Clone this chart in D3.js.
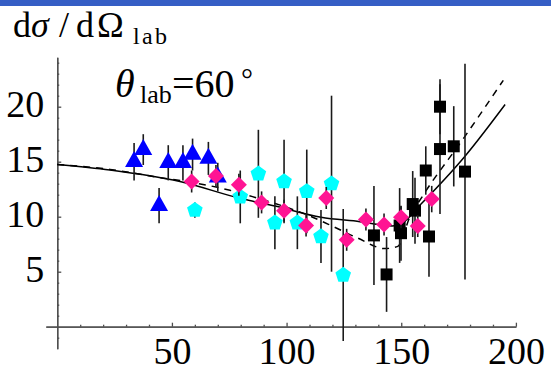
<!DOCTYPE html>
<html>
<head>
<meta charset="utf-8">
<script src="https://cdn.jsdelivr.net/npm/d3@7"></script>
<style>
    body { margin: 0; background: #fff; }
</style>
</head>
<body>
<div id="chart"></div>
<script>
// data
const blueX = [33.5, 37.5, 44.4, 48.4, 54.8, 59.0, 65.9, 70.0];
const blueY = [15.0, 16.1, 11.0, 14.9, 14.9, 15.65, 15.3, 13.6];
const blueErr = [1.7, 1.4, 1.6, 1.6, 1.6, 1.45, 1.5, 1.3];

const cyanX = [60.0, 79.8, 87.7, 94.9, 98.9, 104.7, 108.8, 115.0, 119.6, 124.7];
const cyanY = [10.6, 11.8, 13.9, 9.45, 13.2, 9.45, 12.3, 8.2, 13.0, 4.7];
const cyanErr = [0.7, 2.4, 4.0, 2.4, 3.8, 2.4, 3.8, 2.4, 8.0, 6.0];

const pinkX = [58.6, 69.2, 79.2, 89.1, 98.9, 108.5, 117.3, 126.2, 134.6, 142.5, 149.9, 157.2, 163.3];
const pinkY = [13.2, 13.7, 12.9, 11.3, 10.55, 9.2, 11.7, 7.9, 9.75, 9.3, 9.95, 9.15, 11.6];
const pinkErr = [1.0, 1.0, 1.0, 1.0, 1.0, 1.0, 1.0, 1.0, 1.0, 1.0, 1.0, 1.0, 1.2];

const blackX = [138.1, 143.6, 149.3, 149.9, 155.0, 156.0, 160.7, 162.1, 166.9, 166.9, 172.9, 177.8];
const blackY = [8.3, 4.75, 9.2, 8.5, 11.15, 10.55, 14.2, 8.2, 20.0, 16.15, 16.4, 14.1];
const blackErr = [4.5, 3.4, 3.4, 2.5, 3.0, 3.0, 2.2, 3.65, 2.5, 5.9, 3.65, 9.8];

const solidX = [0, 23, 53.5, 81, 95, 115, 132, 146, 150, 158.2, 177.8, 195.3];
const solidY = [14.75, 14.25, 13.2, 11.6, 10.97, 9.95, 9.55, 9.15, 9.35, 11.06, 15.5, 20.2];

const dashedX = [0, 23, 43.4, 56.4, 75.3, 85.5, 110.9, 120.4, 131.1, 142.9, 148.5, 153.8, 159.6, 177.1, 194.5];
const dashedY = [14.75, 14.3, 13.6, 13.2, 12.4, 11.8, 10.0, 9.1, 8.05, 7.1, 7.3, 10.0, 11.97, 17.1, 22.4];

const xTicks = [50, 100, 150, 200];
const yTicks = [5, 10, 15, 20];

const width = 551, height = 371;
const serif = 'Liberation Serif, Times New Roman, Times, DejaVu Serif, serif';

const svg = d3.select('#chart')
    .append('svg')
    .attr('width', width)
    .attr('height', height)
    .attr('font-family', serif);

// blue strip along the top
svg.append('rect')
    .attr('x', 0).attr('y', 0)
    .attr('width', width).attr('height', 6)
    .style('fill', '#355ec5');

const x = d3.scaleLinear().domain([-5, 200]).range([45.8, 515.9]);
const y = d3.scaleLinear().domain([-2, 24.5]).range([348.7, 57.2]);

const axisColor = '#4d4d4d';

// x axis sits at y = 0
const xAxisG = svg.append('g')
    .attr('transform', `translate(0,${y(0)})`)
    .call(d3.axisBottom(x).tickValues(xTicks).tickSizeInner(-4).tickSizeOuter(0).tickPadding(10));
svg.append('g')
    .attr('transform', `translate(0,${y(0)})`)
    .call(d3.axisBottom(x).tickValues(d3.range(10, 201, 10).filter(v => v % 50 !== 0))
        .tickSizeInner(-2).tickSizeOuter(0).tickFormat(''));

// y axis sits at x = 0
const yAxisG = svg.append('g')
    .attr('transform', `translate(${x(0)},0)`)
    .call(d3.axisLeft(y).tickValues(yTicks).tickSizeInner(-4).tickSizeOuter(0).tickPadding(13));
svg.append('g')
    .attr('transform', `translate(${x(0)},0)`)
    .call(d3.axisLeft(y).tickValues(d3.range(-1, 25, 1).filter(v => v % 5 !== 0))
        .tickSizeInner(-2).tickSizeOuter(0).tickFormat(''));

svg.selectAll('g').attr('font-family', serif).attr('font-size', 38);
svg.selectAll('.domain, .tick line')
    .style('stroke', axisColor)
    .style('stroke-width', 1.3);
svg.selectAll('.tick text')
    .attr('font-family', serif)
    .attr('font-size', 38)
    .style('fill', '#000');
yAxisG.selectAll('.tick text').attr('dy', '0.27em');

// theory curves
const line = d3.line()
    .x(d => x(d[0]))
    .y(d => y(d[1]))
    .curve(d3.curveMonotoneX);

svg.append('path')
    .attr('d', line(solidX.map((v, i) => [v, solidY[i]])))
    .style('fill', 'none')
    .style('stroke', '#000')
    .style('stroke-width', 1.5);

svg.append('path')
    .attr('d', line(dashedX.map((v, i) => [v, dashedY[i]])))
    .style('fill', 'none')
    .style('stroke', '#000')
    .style('stroke-width', 1.5)
    .style('stroke-dasharray', '7,6');

// error bars + markers, one data set at a time
function drawSet(xs, ys, errs, color, marker) {
    const data = xs.map((v, i) => ({x: v, y: ys[i], e: errs[i]}));
    const g = svg.append('g');
    g.selectAll('line.err')
        .data(data)
        .enter().append('line')
        .attr('class', 'err')
        .attr('x1', d => x(d.x)).attr('x2', d => x(d.x))
        .attr('y1', d => y(d.y + d.e)).attr('y2', d => y(d.y - d.e))
        .style('stroke', '#1a1a1a')
        .style('stroke-width', 1.6);
    g.selectAll('path.mark')
        .data(data)
        .enter().append('path')
        .attr('class', 'mark')
        .attr('transform', d => `translate(${x(d.x)},${y(d.y)})`)
        .attr('d', marker)
        .style('fill', color);
}

const triangle = 'M0,-10.7L9,5.3L-9,5.3Z';
const square = 'M-6,-6H6V6H-6Z';
const diamond = 'M0,-8L8,0L0,8L-8,0Z';
const pentagon = d3.range(5).map(i => {
    const a = -Math.PI / 2 + i * 2 * Math.PI / 5;
    return (i ? 'L' : 'M') + (8.2 * Math.cos(a)).toFixed(2) + ',' + (8.2 * Math.sin(a)).toFixed(2);
}).join('') + 'Z';

drawSet(blackX, blackY, blackErr, '#000', square);
drawSet(blueX, blueY, blueErr, '#0000ff', triangle);
drawSet(cyanX, cyanY, cyanErr, '#00ffff', pentagon);
drawSet(pinkX, pinkY, pinkErr, '#ff1493', diamond);

// y axis title, glyphs placed one by one
const title = svg.append('text')
    .attr('y', 37)
    .attr('font-family', serif)
    .attr('font-size', 36);
title.append('tspan').attr('x', 13).text('d');
title.append('tspan').attr('x', 31).style('font-style', 'italic').text('σ');
title.append('tspan').attr('x', 59).text('/');
title.append('tspan').attr('x', 76).text('d');
title.append('tspan').attr('x', 97).attr('textLength', 31).text('Ω');
svg.append('text')
    .attr('x', 133).attr('y', 44)
    .attr('font-family', serif)
    .attr('font-size', 24)
    .attr('textLength', 34)
    .text('lab');

// angle label
const ang = svg.append('text')
    .attr('x', 115).attr('y', 97)
    .attr('font-family', serif)
    .attr('font-size', 40);
ang.append('tspan').style('font-style', 'italic').text('θ');
ang.append('tspan').attr('x', 140).attr('dy', 6).attr('font-size', 26).text('lab');
ang.append('tspan').attr('x', 172).attr('dy', -6).text('=60');
ang.append('tspan').attr('x', 241).attr('dy', -8).attr('font-size', 30).text('°');
</script>
</body>
</html>
